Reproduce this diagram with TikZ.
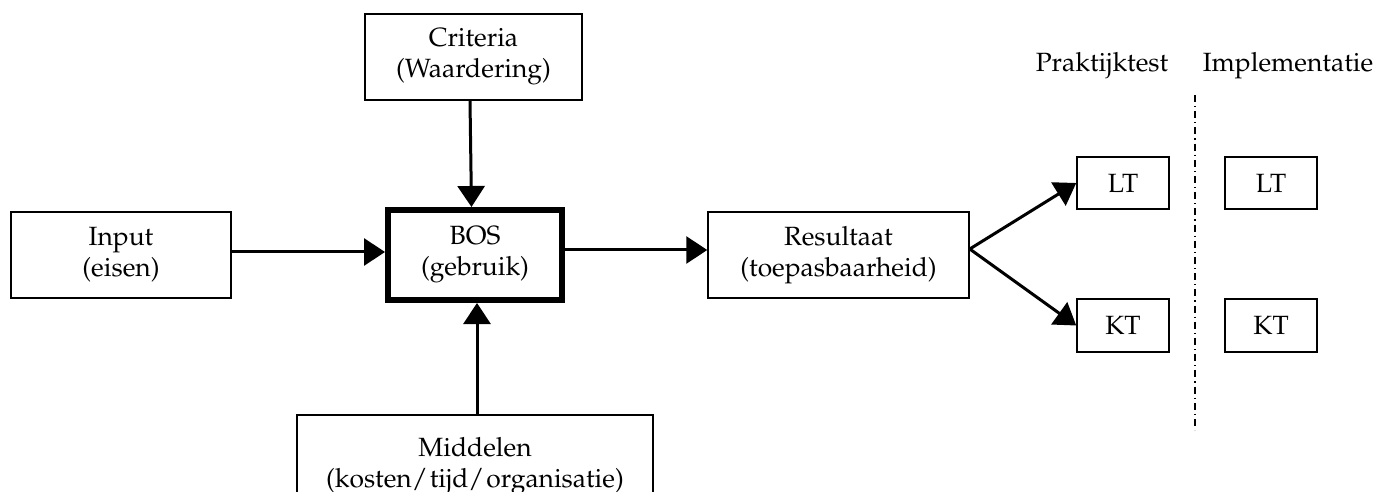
\documentclass[tikz,border=0pt]{standalone}
\usepackage[T1]{fontenc}
\usepackage{mathpazo}
\usetikzlibrary{arrows.meta}
\begin{document}
\begin{tikzpicture}[x=0.5pt,y=-0.5pt,
  every node/.style={font=\fontsize{13.2}{15.5}\selectfont, align=center},
  box/.style={draw, line width=0.75pt, rectangle, inner sep=0pt},
  bigbox/.style={draw, line width=3pt, rectangle, inner sep=0pt},
  arr/.style={line width=1.5pt, -{Triangle[length=10.5pt,width=13.5pt]}},
  sep/.style={line width=0.7pt, dash pattern=on 3.5pt off 2pt on 0.6pt off 2pt}]
\clip (0,0) rectangle (1378,492);
\node[box, minimum width=110pt, minimum height=43pt] (inp) at (121,255) {Input\\(eisen)};
\node[bigbox, minimum width=87pt, minimum height=45pt] (bos) at (475,255) {BOS\\(gebruik)};
\node[box, minimum width=108.5pt, minimum height=43pt] (crit) at (473.5,57) {Criteria\\(Waardering)};
\node[box, minimum width=130.5pt, minimum height=43pt] (res) at (838.5,255) {Resultaat\\(toepasbaarheid)};
\node[box, minimum width=178pt, minimum height=51pt] (mid) at (475,466) {Middelen\\(kosten/\kern1pt tijd/\kern1pt organisatie)};
\node[box, minimum width=46pt, minimum height=26pt] (lt1) at (1123,183) {LT};
\node[box, minimum width=46pt, minimum height=26.5pt] (kt1) at (1123,325.5) {KT};
\node[box, minimum width=46pt, minimum height=26pt] (lt2) at (1271,183) {LT};
\node[box, minimum width=46pt, minimum height=26.5pt] (kt2) at (1271,325.5) {KT};
\node (prak) at (1102,66) {Praktijktest};
\node (impl) at (1288,66) {Implementatie};
\coordinate (septop) at (1195,95);
\coordinate (sepbot) at (1195,430);
\draw[sep] (septop) -- (sepbot);
\draw[arr] ([yshift=1.5pt]inp.east) -- ([yshift=1.5pt]bos.west);
\draw[arr] ([xshift=-1.75pt]crit.south) -- ([xshift=-1.75pt]bos.north);
\draw[arr] ([xshift=1pt]mid.north) -- ([xshift=1pt]bos.south);
\draw[arr] ([yshift=2.5pt]bos.east) -- ([yshift=2.5pt]res.west);
\draw[arr] ([yshift=3pt]res.east) -- (lt1.west);
\draw[arr] ([yshift=3pt]res.east) -- (kt1.west);
\end{tikzpicture}
\end{document}
